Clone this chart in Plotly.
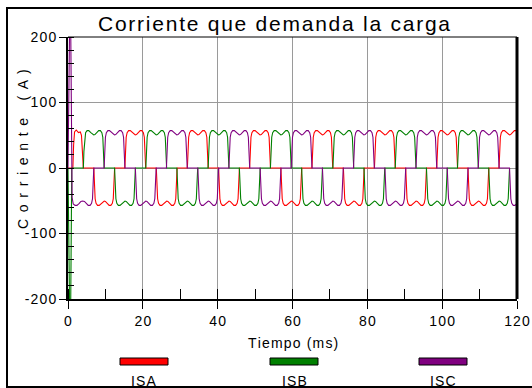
import plotly.graph_objects as go

# ---------------- data ----------------
series_names = ["ISA", "ISB", "ISC"]
series_colors = ["#ff0000", "#008000", "#800080"]

# one 120-degree conduction pulse: time offsets (ms) and current (A)
pulse_t = [0, 0.15, 0.35, 0.6, 1.0, 1.45, 2.0, 2.45, 2.78, 3.1, 3.55, 4.1, 4.55, 4.95, 5.2, 5.4, 5.56]
pulse_i = [0, 25, 47, 54, 57, 57, 54, 51, 50.5, 51, 54, 57, 57, 54, 47, 25, 0]

# pulse start times (ms)
isa_pos = [15.2, 31.9, 48.55, 65.2, 81.9, 98.55, 115.2]
isa_neg = [6.9, 23.6, 40.25, 56.9, 73.6, 90.25, 106.9]
isb_pos = [4.1, 20.8, 37.45, 54.1, 70.8, 87.45, 104.1]
isb_neg = [12.45, 29.1, 45.8, 62.45, 79.1, 95.8, 112.45]
isc_pos = [9.65, 26.3, 43.0, 59.65, 76.3, 93.0, 109.65]
isc_neg = [18.0, 34.7, 51.35, 68.0, 84.7, 101.35, 118.0]

# start-up transient
isa_start_t = [0, 1.3, 1.5, 1.75, 2.2, 2.8, 3.3, 3.6, 3.85, 4.1]
isa_start_i = [0, 0, 35, 55, 58, 54, 55, 50, 25, 0]
isb_start_t = [0, 0.6, 1.0]
isb_start_i = [0, -300, 0]
isc_start_t = [0, 0.6, 1.1, 1.4, 1.9, 2.4, 3.0, 3.45, 3.9, 4.4, 4.9, 5.4, 5.9, 6.3, 6.55, 6.75, 6.9]
isc_start_i = [0, 300, -45, -55, -57, -57, -54, -51, -50.5, -51, -54, -57, -57, -54, -47, -25, 0]

x_tickvals = [0, 20, 40, 60, 80, 100, 120]
x_ticklabels = ["0", "20", "40", "60", "80", "100", "120"]
y_tickvals = [-200, -100, 0, 100, 200]
y_ticklabels = ["-200", "-100", "0", "100", "200"]

title_text = "Corriente que demanda la carga"
x_title = "Tiempo (ms)"
y_title = "Corriente (A)"


def build(start_t, start_i, pos, neg):
    t = list(start_t)
    v = list(start_i)
    events = sorted([(s, 1) for s in pos] + [(s, -1) for s in neg])
    for s, sign in events:
        for dt, a in zip(pulse_t, pulse_i):
            t.append(s + dt)
            v.append(sign * a)
    return t, v


series = [
    build(isa_start_t, isa_start_i, isa_pos, isa_neg),
    build(isb_start_t, isb_start_i, isb_pos, isb_neg),
    build(isc_start_t, isc_start_i, isc_pos, isc_neg),
]

# ---------------- styling ----------------
W, H = 532, 388
L, R, T, B = 68, 15, 37, 89
PW, PH = W - L - R, H - T - B
FONT = "Liberation Sans, Arial, sans-serif"
HAIR = "\u200a"
WIDE = " \u2009"


def track(s, sep=HAIR):
    return sep.join(s)


def px(x):
    return (x - L) / PW


def py(y):
    return (H - B - y) / PH


fig = go.Figure()
for (t, v), name, col in zip(series, series_names, series_colors):
    fig.add_trace(go.Scatter(x=t, y=v, mode="lines", name=name,
                             line=dict(color=col, width=1.1), hoverinfo="skip"))

fig.update_layout(
    width=W, height=H, margin=dict(l=L, r=R, t=T, b=B, autoexpand=False),
    paper_bgcolor="white", plot_bgcolor="white", showlegend=False,
    font=dict(family=FONT, size=14, color="black"),
)
fig.update_xaxes(
    range=[0, 120], tickvals=x_tickvals, ticktext=[track(s) for s in x_ticklabels],
    ticks="outside", ticklen=8, tickwidth=1, tickcolor="black", automargin=False,
    showgrid=True, gridcolor="#9a9a9a", gridwidth=1, zeroline=False,
    showline=True, linecolor="black", linewidth=1.5, mirror=False,
    minor=dict(ticks="inside", ticklen=10, tickwidth=1, tickcolor="black", dtick=10, tick0=0, showgrid=False),
    tickfont=dict(size=14),
)
fig.update_yaxes(
    range=[-200, 200], tickvals=y_tickvals, ticktext=[track(s) for s in y_ticklabels],
    ticks="outside", ticklen=7, tickwidth=1, tickcolor="black", automargin=False,
    showgrid=True, gridcolor="#9a9a9a", gridwidth=1, zeroline=False,
    showline=True, linecolor="black", linewidth=2, mirror=False,
    minor=dict(ticks="inside", ticklen=6, tickwidth=1, tickcolor="black", dtick=20, tick0=0, showgrid=False),
    tickfont=dict(size=14),
)

shapes = []
# plot frame top and right
shapes.append(dict(type="line", xref="paper", yref="paper", x0=0, x1=1, y0=1, y1=1,
                   line=dict(color="black", width=1)))
shapes.append(dict(type="line", xref="paper", yref="paper", x0=1, x1=1, y0=0, y1=1,
                   line=dict(color="black", width=3)))
# outer frame
shapes.append(dict(type="rect", xref="paper", yref="paper", x0=px(7), x1=px(545), y0=py(387), y1=py(8),
                   line=dict(color="black", width=2), fillcolor="rgba(0,0,0,0)", layer="below"))
# legend swatches
legend_x = [120, 270, 419]
for x0, col in zip(legend_x, series_colors):
    shapes.append(dict(type="rect", xref="paper", yref="paper", x0=px(x0), x1=px(x0 + 48),
                       y0=py(365), y1=py(358), line=dict(color="black", width=1), fillcolor=col))

ann = []
ann.append(dict(text=track(title_text), x=px(274), y=py(23), xref="paper", yref="paper",
                showarrow=False, xanchor="center", yanchor="middle", font=dict(size=21)))
ann.append(dict(text=track(x_title), x=px(293), y=py(343), xref="paper", yref="paper",
                showarrow=False, xanchor="center", yanchor="middle", font=dict(size=14)))
ann.append(dict(text=track(y_title, WIDE), x=px(23), y=py(149), xref="paper", yref="paper",
                showarrow=False, xanchor="center", yanchor="middle", textangle=-90, font=dict(size=14)))
for x0, name in zip(legend_x, series_names):
    ann.append(dict(text=track(name), x=px(x0 + 24), y=py(381), xref="paper", yref="paper",
                    showarrow=False, xanchor="center", yanchor="middle", font=dict(size=14)))

fig.update_layout(shapes=shapes, annotations=ann)
fig.write_html("out.html", config={"displayModeBar": False},
               post_script="document.body.style.margin='0';document.body.style.overflow='hidden';")
